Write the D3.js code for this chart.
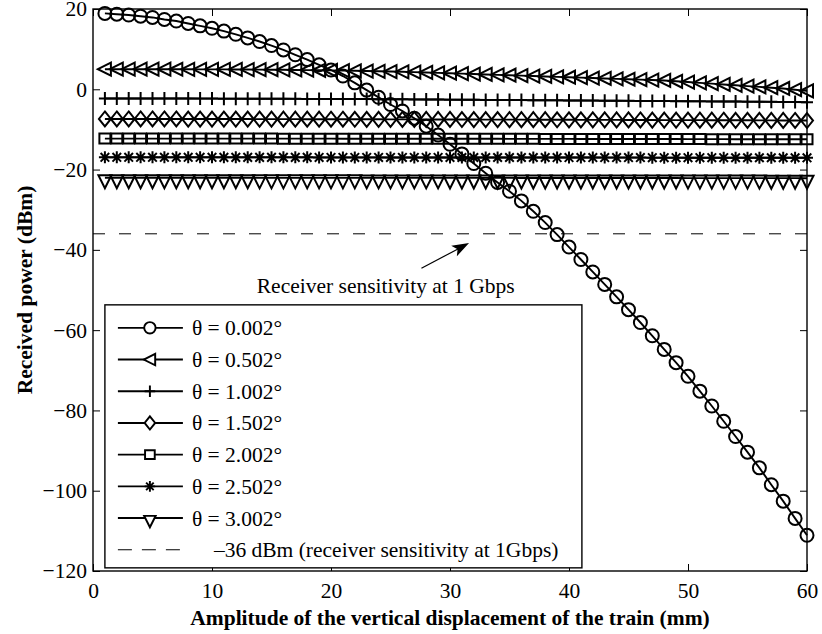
<!DOCTYPE html>
<html>
<head>
<meta charset="utf-8">
<script src="https://cdn.jsdelivr.net/npm/d3@7"></script>
<style>
  body { margin: 0; background: #fff; }
  svg text { font-family: "Liberation Serif", "Times New Roman", serif; fill: #000; }
</style>
</head>
<body>
<div id="chart-container"></div>
<script>
// amplitude of vertical displacement (mm)
var xs = [1,2,3,4,5,6,7,8,9,10,11,12,13,14,15,16,17,18,19,20,
  21,22,23,24,25,26,27,28,29,30,31,32,33,34,35,36,37,38,39,40,
  41,42,43,44,45,46,47,48,49,50,51,52,53,54,55,56,57,58,59,60];

// received power (dBm), one array per divergence angle
var p0002 = [18.9,18.7,18.5,18.2,17.9,17.4,17.0,16.4,15.8,15.2,14.5,13.7,12.8,11.9,10.9,9.8,8.6,7.4,6.1,4.8,
  3.3,1.6,-0.2,-2.0,-3.8,-5.4,-7.2,-9.2,-11.4,-13.7,-16.1,-18.5,-20.9,-23.2,-25.4,-27.8,-30.4,-33.2,-36.2,-39.3,
  -42.4,-45.5,-48.6,-51.7,-54.9,-58.1,-61.4,-64.8,-68.1,-71.5,-75.2,-78.9,-82.7,-86.5,-90.4,-94.3,-98.5,-102.6,-106.9,-111.1];
var p0502 = [5.0,5.0,5.0,5.0,5.0,5.0,4.99,4.98,4.97,4.96,4.95,4.94,4.92,4.9,4.88,4.85,4.82,4.78,4.74,4.7,
  4.65,4.6,4.54,4.48,4.42,4.35,4.27,4.19,4.1,4.0,3.9,3.8,3.7,3.6,3.5,3.4,3.3,3.2,3.1,3.0,
  2.9,2.8,2.7,2.6,2.5,2.4,2.3,2.2,2.0,1.8,1.6,1.4,1.2,1.0,0.8,0.6,0.4,0.2,-0.1,-0.4];
var p1002 = [-2.30,-2.30,-2.30,-2.30,-2.30,-2.31,-2.31,-2.31,-2.32,-2.32,-2.33,-2.33,-2.34,-2.35,-2.36,-2.37,-2.38,-2.39,-2.40,-2.41,
  -2.42,-2.44,-2.45,-2.47,-2.48,-2.50,-2.52,-2.54,-2.56,-2.58,-2.60,-2.62,-2.64,-2.66,-2.68,-2.70,-2.72,-2.74,-2.76,-2.78,
  -2.80,-2.82,-2.84,-2.86,-2.88,-2.90,-2.92,-2.94,-2.96,-2.98,-3.00,-3.02,-3.04,-3.06,-3.08,-3.10,-3.13,-3.16,-3.19,-3.22];
var p1502 = [-7.40,-7.40,-7.40,-7.40,-7.40,-7.40,-7.40,-7.41,-7.41,-7.41,-7.42,-7.42,-7.42,-7.43,-7.43,-7.44,-7.44,-7.45,-7.45,-7.46,
  -7.46,-7.47,-7.48,-7.48,-7.49,-7.50,-7.50,-7.51,-7.52,-7.52,-7.53,-7.54,-7.55,-7.55,-7.56,-7.57,-7.58,-7.58,-7.59,-7.60,
  -7.61,-7.62,-7.62,-7.63,-7.64,-7.65,-7.66,-7.67,-7.68,-7.68,-7.69,-7.70,-7.71,-7.72,-7.73,-7.74,-7.75,-7.76,-7.77,-7.78];
var p2002 = [-12.28,-12.28,-12.28,-12.28,-12.28,-12.28,-12.28,-12.28,-12.28,-12.29,-12.29,-12.29,-12.29,-12.29,-12.29,-12.30,-12.30,-12.30,-12.30,-12.30,
  -12.31,-12.31,-12.31,-12.31,-12.32,-12.32,-12.32,-12.32,-12.33,-12.33,-12.33,-12.34,-12.34,-12.34,-12.35,-12.35,-12.35,-12.36,-12.36,-12.36,
  -12.37,-12.37,-12.38,-12.38,-12.38,-12.39,-12.39,-12.40,-12.40,-12.41,-12.41,-12.42,-12.42,-12.43,-12.43,-12.44,-12.44,-12.45,-12.45,-12.46];
var p2502 = [-16.95,-16.95,-16.95,-16.95,-16.95,-16.95,-16.95,-16.95,-16.95,-16.95,-16.96,-16.96,-16.96,-16.96,-16.96,-16.96,-16.96,-16.96,-16.97,-16.97,
  -16.97,-16.97,-16.97,-16.97,-16.98,-16.98,-16.98,-16.98,-16.98,-16.99,-16.99,-16.99,-16.99,-16.99,-17.00,-17.00,-17.00,-17.00,-17.01,-17.01,
  -17.01,-17.01,-17.02,-17.02,-17.02,-17.02,-17.03,-17.03,-17.03,-17.04,-17.04,-17.04,-17.04,-17.05,-17.05,-17.05,-17.06,-17.06,-17.06,-17.07];
var p3002 = [-22.05,-22.05,-22.05,-22.05,-22.05,-22.05,-22.05,-22.05,-22.05,-22.05,-22.05,-22.05,-22.05,-22.06,-22.06,-22.06,-22.06,-22.06,-22.06,-22.06,
  -22.06,-22.06,-22.07,-22.07,-22.07,-22.07,-22.07,-22.07,-22.07,-22.08,-22.08,-22.08,-22.08,-22.08,-22.08,-22.09,-22.09,-22.09,-22.09,-22.09,
  -22.10,-22.10,-22.10,-22.10,-22.10,-22.11,-22.11,-22.11,-22.11,-22.12,-22.12,-22.12,-22.12,-22.13,-22.13,-22.13,-22.14,-22.14,-22.14,-22.15];

var sensitivity = -36;
var seriesLabels = ["θ = 0.002°","θ = 0.502°","θ = 1.002°","θ = 1.502°","θ = 2.002°","θ = 2.502°","θ = 3.002°"];
var seriesMarkers = ["circle","triLeft","plus","diamond","square","star","triDown"];
var sensLabel = "\u201336 dBm (receiver sensitivity at 1Gbps)";
var xTicks = [0,10,20,30,40,50,60];
var yTicks = [-120,-100,-80,-60,-40,-20,0,20];

var series = [p0002,p0502,p1002,p1502,p2002,p2502,p3002].map(function(v, i){
  return {label: seriesLabels[i], marker: seriesMarkers[i], values: v};
});

var fs = "21.5px";
var margin = {top: 9, right: 15, bottom: 63, left: 93},
    width = 822, height = 634,
    w = width - margin.left - margin.right,
    h = height - margin.top - margin.bottom;

var svg = d3.select("#chart-container")
  .append("svg")
    .attr("width", width)
    .attr("height", height)
    .style("background", "#fff");
var g = svg.append("g").attr("transform", "translate(" + margin.left + "," + margin.top + ")");

var xScale = d3.scaleLinear().domain([0,60]).range([0,w]);
var yScale = d3.scaleLinear().domain([-120,20]).range([h,0]);

// marker shapes, centred on the point
function markerPath(type){
  var p = d3.path();
  switch(type){
    case "circle":
      p.arc(0,0,6.5,0,2*Math.PI); break;
    case "triLeft":
      p.moveTo(-7,0); p.lineTo(6,-6.5); p.lineTo(6,6.5); p.closePath(); break;
    case "plus":
      p.moveTo(-6,0); p.lineTo(6,0); p.moveTo(0,-6.5); p.lineTo(0,6.5); break;
    case "diamond":
      p.moveTo(0,-7.5); p.lineTo(6,0); p.lineTo(0,7.5); p.lineTo(-6,0); p.closePath(); break;
    case "square":
      p.rect(-5.5,-5,11,10); break;
    case "star":
      p.moveTo(-6,0); p.lineTo(6,0); p.moveTo(0,-6); p.lineTo(0,6);
      p.moveTo(-4.3,-4.3); p.lineTo(4.3,4.3); p.moveTo(-4.3,4.3); p.lineTo(4.3,-4.3); break;
    case "triDown":
      p.moveTo(-6.5,-2.5); p.lineTo(6.5,-2.5); p.lineTo(0,10.5); p.closePath(); break;
  }
  return p.toString();
}

// axes box with inward ticks on all four sides
g.append("g").call(d3.axisBottom(xScale).tickValues(xTicks).tickSizeInner(-7).tickSizeOuter(0).tickPadding(12).tickFormat(d3.format("d")))
  .attr("transform","translate(0,"+h+")");
g.append("g").call(d3.axisTop(xScale).tickValues(xTicks).tickSizeInner(-7).tickSizeOuter(0).tickFormat(""));
g.append("g").call(d3.axisLeft(yScale).tickValues(yTicks).tickSizeInner(-7).tickSizeOuter(0).tickPadding(6)
  .tickFormat(function(d){ return d < 0 ? "\u2212" + Math.abs(d) : d; }));
g.append("g").call(d3.axisRight(yScale).tickValues(yTicks).tickSizeInner(-7).tickSizeOuter(0).tickFormat(""))
  .attr("transform","translate("+w+",0)");
g.selectAll(".tick line").attr("stroke","#000").attr("stroke-width",1);
g.selectAll(".domain").remove();
g.selectAll(".tick text").style("font-size",fs).style("font-family","Liberation Serif");
g.append("rect").attr("x",0).attr("y",0).attr("width",w).attr("height",h)
  .attr("fill","none").attr("stroke","#000").attr("stroke-width",1.4);

// sensitivity line
g.append("line")
  .attr("x1",xScale(0)).attr("x2",xScale(60))
  .attr("y1",yScale(sensitivity)).attr("y2",yScale(sensitivity))
  .attr("stroke","#000").attr("stroke-width",1).attr("stroke-dasharray","12,14");

var line = d3.line().x(function(d,i){ return xScale(xs[i]); }).y(function(d){ return yScale(d); });

series.forEach(function(s){
  g.append("path").datum(s.values)
    .attr("d", line).attr("fill","none").attr("stroke","#000").attr("stroke-width",1.9);
  g.append("g").selectAll("path")
    .data(s.values)
    .enter()
    .append("path")
      .attr("transform", function(d,i){ return "translate(" + xScale(xs[i]) + "," + yScale(d) + ")"; })
      .attr("d", markerPath(s.marker))
      .attr("fill","none").attr("stroke","#000").attr("stroke-width",2);
});

// annotation arrow + text
var arrowTail = [27.6,-44.6], arrowHead = [31.6,-38.3];
var ax1 = xScale(arrowTail[0]), ay1 = yScale(arrowTail[1]), ax2 = xScale(arrowHead[0]), ay2 = yScale(arrowHead[1]);
var ang = Math.atan2(ay2-ay1, ax2-ax1);
g.append("line").attr("x1",ax1).attr("y1",ay1)
  .attr("x2",ax2 - 12*Math.cos(ang)).attr("y2",ay2 - 12*Math.sin(ang))
  .attr("stroke","#000").attr("stroke-width",1.2);
g.append("path")
  .attr("d", d3.line()([[0,0],[-17,-6],[-13,0],[-17,6]]) + "Z")
  .attr("transform","translate("+ax2+","+ay2+") rotate("+(ang*180/Math.PI)+")")
  .attr("fill","#000");
g.append("text")
  .attr("x", xScale(24.6)).attr("y", yScale(-50.8))
  .attr("text-anchor","middle").style("font-size",fs)
  .text("Receiver sensitivity at 1 Gbps");

// legend
var lg = g.append("g").attr("transform","translate(" + (xScale(1)) + "," + (yScale(-53.7)) + ")");
var lgW = 477, lgH = 263, rowH = 31.7;
lg.append("rect").attr("width",lgW).attr("height",lgH)
  .attr("fill","#fff").attr("stroke","#000").attr("stroke-width",1.4);
series.forEach(function(s, i){
  var ry = 23 + i*rowH;
  lg.append("line").attr("x1",13).attr("x2",78).attr("y1",ry).attr("y2",ry)
    .attr("stroke","#000").attr("stroke-width",1.9);
  lg.append("path").attr("transform","translate(45,"+ry+") scale(0.88)").attr("d",markerPath(s.marker))
    .attr("fill","#fff").attr("stroke","#000").attr("stroke-width",2.2);
  lg.append("text").attr("x",87).attr("y",ry).attr("dy","0.35em")
    .style("font-size",fs).text(s.label);
});
var sy = 23 + 7*rowH;
lg.append("line").attr("x1",13).attr("x2",78).attr("y1",sy).attr("y2",sy)
  .attr("stroke","#000").attr("stroke-width",1).attr("stroke-dasharray","14,10");
lg.append("text").attr("x",109).attr("y",sy).attr("dy","0.35em")
  .style("font-size",fs).text(sensLabel);

// axis titles
svg.append("text")
  .attr("transform","translate(32," + (margin.top + h/2) + ") rotate(-90)")
  .attr("text-anchor","middle").style("font-size",fs).style("font-weight","bold")
  .text("Received power (dBm)");
svg.append("text")
  .attr("x", margin.left + w/2).attr("y", 625)
  .attr("text-anchor","middle").style("font-size",fs).style("font-weight","bold")
  .text("Amplitude of the vertical displacement of the train (mm)");
</script>
</body>
</html>
